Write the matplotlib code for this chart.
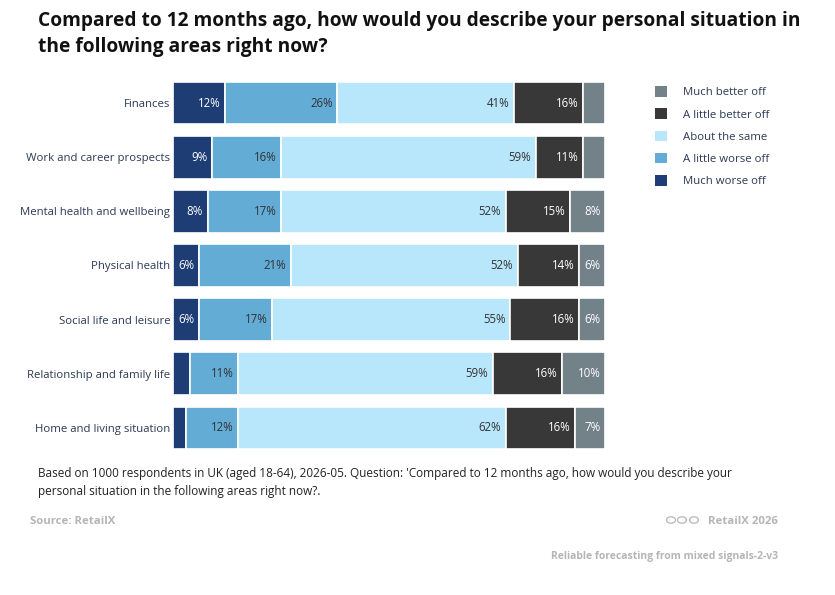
import matplotlib
matplotlib.use("Agg")
import matplotlib.pyplot as plt
from matplotlib.patches import Circle, Patch
import numpy as np

plt.rcParams['font.family'] = ['Open Sans', 'DejaVu Sans']

categories = ["Finances", "Work and career prospects", "Mental health and wellbeing",
              "Physical health", "Social life and leisure", "Relationship and family life",
              "Home and living situation"]
series = ["Much worse off", "A little worse off", "About the same",
          "A little better off", "Much better off"]
much_worse = [12, 9, 8, 6, 6, 4, 3]
little_worse = [26, 16, 17, 21, 17, 11, 12]
same = [41, 59, 52, 52, 55, 59, 62]
little_better = [16, 11, 15, 14, 16, 16, 16]
much_better = [5, 5, 8, 6, 6, 10, 7]
colors = ["#1d3d74", "#63acd6", "#b8e6fb", "#383838", "#738189"]
text_colors = ["white", "#333333", "#333333", "white", "white"]

data = np.array([much_worse, little_worse, same, little_better, much_better], dtype=float)
totals = data.sum(axis=0)
norm = data / totals * 100

fig = plt.figure(figsize=(8.35, 5.95), dpi=100)
ax = fig.add_axes([173/835, 1-455/595, (605-173)/835, (455-76)/595])

y = np.arange(len(categories))
left = np.zeros(len(categories))
for i, name in enumerate(series):
    ax.barh(y, norm[i], left=left, height=0.79, color=colors[i],
            edgecolor="white", linewidth=1.2, label=name)
    for j in range(len(categories)):
        v = data[i, j]
        if v >= 6:
            ax.text(left[j] + norm[i, j] - 1.0, y[j], f"{int(v)}%", ha="right", va="center",
                    fontsize=8.3, color=text_colors[i])
    left += norm[i]

ax.set_xlim(0, 100)
ax.set_ylim(len(categories) - 0.5, -0.5)
ax.set_yticks(y)
ax.set_yticklabels(categories, fontsize=8.2, color="#2b3a55")
ax.tick_params(axis="y", length=0, pad=2)
ax.set_xticks([])
for s in ax.spines.values():
    s.set_visible(False)

# Legend (reversed order)
leg_handles = [Patch(facecolor=colors[k], edgecolor="none") for k in range(4, -1, -1)]
fig.legend(leg_handles, [series[k] for k in range(4, -1, -1)],
           loc="upper left", bbox_to_anchor=(645/835, 1-76/595), frameon=False,
           fontsize=8.2, handlelength=1.05, handleheight=1.05, handletextpad=1.35,
           labelspacing=0.88, labelcolor="#2b3a55")

fig.text(38/835, 1-34/595, "Compared to 12 months ago, how would you describe your personal situation in\nthe following areas right now?",
         fontsize=13.8, fontweight="bold", color="#111111", ha="left", va="center", linespacing=1.45)

fig.text(38/835, 1-483/595, "Based on 1000 respondents in UK (aged 18-64), 2026-05. Question: 'Compared to 12 months ago, how would you describe your\npersonal situation in the following areas right now?.",
         fontsize=8.5, color="#222222", ha="left", va="center", linespacing=1.5)

fig.text(30/835, 1-522/595, "Source: RetailX", fontsize=8.2, fontweight="bold", color="#b5b5b5",
         ha="left", va="center")
fig.text(778/835, 1-522/595, "RetailX 2026", fontsize=8.2, fontweight="bold", color="#b5b5b5",
         ha="right", va="center")
for cx in [671, 682, 694]:
    fig.add_artist(Circle((cx/835, 1-520/595), 4.5/835, transform=fig.transFigure,
                          fill=False, edgecolor="#b5b5b5", linewidth=0.9))
fig.text(778/835, 1-557/595, "Reliable forecasting from mixed signals-2-v3", fontsize=7.5,
         fontweight="bold", color="#b5b5b5", ha="right", va="center")

fig.savefig("out.png", dpi=100)
